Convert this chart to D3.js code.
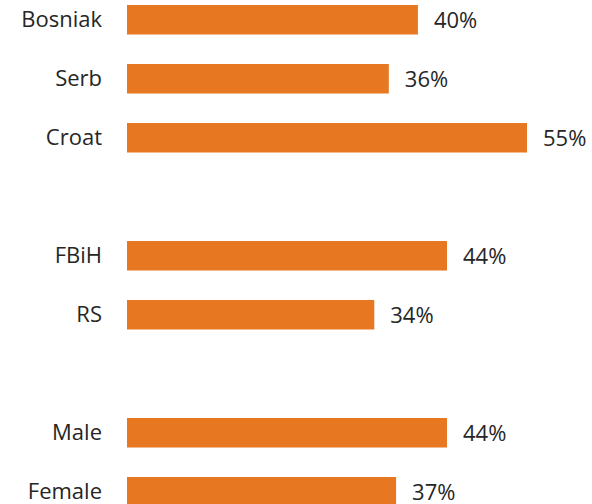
<!DOCTYPE html>
<html lang="en">
<head>
    <meta charset="UTF-8">
    <title>Bar chart</title>
    <script src="https://d3js.org/d3.v7.min.js"></script>
    <style>
        body { margin: 0; background: #fff; }
        text { font-family: "Open Sans", sans-serif; fill: #262626; }
    </style>
</head>
<body>
    <svg id="chart" width="592" height="504"></svg>
    <script>
        // rows in display order; blank rows make the gaps between groups
        const categories = ["Bosniak", "Serb", "Croat", "FBiH", "RS", "Male", "Female"];
        const rows = ["Bosniak", "Serb", "Croat", "_gap1", "FBiH", "RS", "_gap2", "Male", "Female"];
        const values = [40, 36, 55, 44, 34, 44, 37];

        const data = categories.map((c, i) => ({name: c, value: values[i]}));

        const svg = d3.select("#chart");

        const x = d3.scaleLinear()
            .domain([0, 55])
            .range([127, 527]);

        // step 59px, bar height ~29.5px
        const y = d3.scaleBand()
            .domain(rows)
            .range([-9.75, 521.25])
            .paddingInner(0.5)
            .paddingOuter(0.25);

        svg.append("g")
            .selectAll("rect")
            .data(data)
            .join("rect")
            .attr("x", x(0))
            .attr("y", d => y(d.name))
            .attr("width", d => x(d.value) - x(0))
            .attr("height", y.bandwidth())
            .attr("fill", "#E87722");

        // category labels
        svg.append("g")
            .selectAll("text")
            .data(data)
            .join("text")
            .attr("x", 102)
            .attr("y", d => y(d.name) + y.bandwidth() / 2 + 7.5)
            .attr("text-anchor", "end")
            .style("font-size", "22px")
            .text(d => d.name);

        // value labels
        svg.append("g")
            .selectAll("text")
            .data(data)
            .join("text")
            .attr("x", d => x(d.value) + 16)
            .attr("y", d => y(d.name) + y.bandwidth() / 2 + 8.5)
            .style("font-size", "22px")
            .text(d => d.value + "%");
    </script>
</body>
</html>
